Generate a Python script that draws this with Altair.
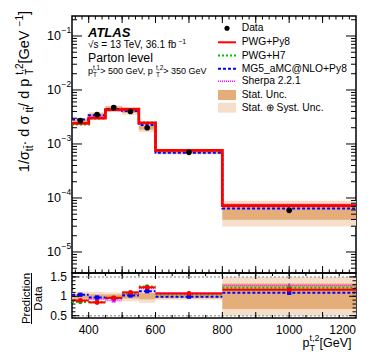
import altair as alt
import pandas as pd

# ---------------- data ----------------
bin_lo = [350, 400, 450, 500, 550, 600, 800]
bin_hi = [400, 450, 500, 550, 600, 800, 1200]
data_vals = [2.7e-3, 3.5e-3, 4.7e-3, 4.0e-3, 2.0e-3, 7.0e-4, 5.9e-5]
stat_rel = [0.06, 0.05, 0.05, 0.06, 0.08, 0.05, 0.33]
tot_rel = [0.12, 0.11, 0.10, 0.13, 0.17, 0.09, 0.50]

pwg_py8 = [2.4e-3, 3.0e-3, 4.3e-3, 4.4e-3, 2.45e-3, 7.6e-4, 7.2e-5]
pwg_h7 = [2.3e-3, 2.95e-3, 4.45e-3, 4.3e-3, 2.5e-3, 7.4e-4, 7.2e-5]
mg5_py8 = [2.85e-3, 3.4e-3, 4.45e-3, 4.1e-3, 2.25e-3, 6.9e-4, 6.4e-5]
sherpa = [2.45e-3, 3.25e-3, 4.2e-3, 4.2e-3, 2.4e-3, 7.6e-4, 7.6e-5]

ratio_py8 = [0.89, 0.84, 0.96, 1.10, 1.23, 1.07, 1.17]
ratio_h7 = [0.85, 0.85, 0.96, 1.07, 1.25, 1.05, 1.22]
ratio_mg5 = [1.04, 0.97, 0.95, 1.02, 1.13, 0.99, 1.09]
ratio_sherpa = [0.90, 0.93, 0.89, 1.05, 1.20, 1.09, 1.28]
ratio_err = [0.03, 0.03, 0.03, 0.04, 0.04, 0.03, 0.05]

x_label_vals = [400, 600, 800, 1000]
x_label_last = [1200]
y_decades = [1e-5, 1e-4, 1e-3, 1e-2, 1e-1]
y_decade_exp = ["\u22125", "\u22124", "\u22123", "\u22122", "\u22121"]
ratio_label_vals = [0.5, 1.0, 1.5]
ratio_label_txt = ["0.5", "1", "1.5"]
ratio_ref_lines = [0.5, 1.5]

x_major_ticks = [400, 500, 600, 700, 800, 900, 1000, 1100]
x_minor_ticks = [v for v in range(360, 1200, 20)]
x_ratio_minor = [v for v in range(400, 1200, 50)]
log_major = [1e-5, 1e-4, 1e-3, 1e-2, 1e-1]
log_minor = [k * 10.0 ** e for e in range(-6, 0) for k in range(2, 10)
             if 4.1e-6 < k * 10.0 ** e < 0.234]
ratio_major_ticks = [0.5, 1.0, 1.5]
ratio_minor_ticks = [0.5 + 0.1 * i for i in range(11)]

# ---------------- style ----------------
FONT = "Liberation Sans"
W, H, HR = 284, 257, 45
C_STAT = "#E5AD7A"
C_TOT = "#F5DFCA"
C_PY8 = "#ff0000"
C_H7 = "#00c000"
C_MG5 = "#0000ff"
C_SH = "#ff00ff"
NB = "\u00a0"

xs = alt.Scale(domain=[350, 1200], nice=False, zero=False)
ys = alt.Scale(type="log", domain=[4.08e-6, 0.2345], nice=False)
yr = alt.Scale(domain=[0.44, 1.6], nice=False, zero=False)

bins = pd.DataFrame({
    "lo": bin_lo, "hi": bin_hi, "data": data_vals,
    "stat": stat_rel, "tot": tot_rel,
    "r_py8": ratio_py8, "r_h7": ratio_h7, "r_mg5": ratio_mg5, "r_sh": ratio_sherpa,
    "rerr": ratio_err,
})
bins["c"] = (bins["lo"] + bins["hi"]) / 2
bins["s_lo"] = bins["data"] * (1 - bins["stat"])
bins["s_hi"] = bins["data"] * (1 + bins["stat"])
bins["t_lo"] = bins["data"] * (1 - bins["tot"])
bins["t_hi"] = bins["data"] * (1 + bins["tot"])
bins["rs_lo"] = 1 - bins["stat"]
bins["rs_hi"] = 1 + bins["stat"]
bins["rt_lo"] = 1 - bins["tot"]
bins["rt_hi"] = 1 + bins["tot"]

edges = bin_lo + [bin_hi[-1]]


def step_df(vals):
    return pd.DataFrame({"x": edges, "y": vals + [vals[-1]]})


one = pd.DataFrame({"a": [0]})

# ---------------- text layout helpers ----------------
AW = {' ': 278, NB: 278, '/': 278, '.': 278, ',': 278, '-': 333, '\u2212': 584, '[': 278,
      ']': 278, '>': 584, '=': 584, '+': 584, '_': 556, '@': 1015, '\u00b7': 278,
      '\u03c3': 617, '\u221a': 549, '\u0304': 0,
      'A': 667, 'B': 667, 'C': 722, 'D': 722, 'E': 667, 'F': 611, 'G': 778, 'H': 722, 'I': 278,
      'L': 556, 'M': 833, 'N': 722, 'O': 778, 'P': 667, 'S': 667, 'T': 611, 'U': 722, 'V': 667,
      'a': 556, 'b': 556, 'c': 500, 'd': 556, 'e': 556, 'f': 278, 'g': 556, 'h': 556, 'i': 222,
      'l': 222, 'n': 556, 'o': 556, 'p': 556, 'r': 333, 's': 500, 't': 278, 'u': 556, 'v': 500,
      'y': 500}
for d in "0123456789":
    AW[d] = 556


def nb(s):
    return s.replace(" ", NB)


def tw(s, size):
    return sum(AW.get(ch, 556) for ch in s) / 1000.0 * size


def txt(s, x, y, size, angle=0, **kw):
    mk = dict(align="left", baseline="alphabetic", fontSize=size, font=FONT, color="black")
    if angle:
        mk["angle"] = angle
    mk.update(kw)
    return alt.Chart(one).mark_text(**mk).encode(
        x=alt.value(x), y=alt.value(y), text=alt.value(nb(s)))


def rich_width(runs, bs, ss):
    w = 0
    for r in runs:
        if isinstance(r, str):
            w += tw(r, bs)
        else:
            w += max(tw(r[0], ss), tw(r[1], ss))
    return w


def rich_h(runs, x0, yb, bs, ss, sub_off, sup_off):
    out = []
    x = x0
    for r in runs:
        if isinstance(r, str):
            out.append(txt(r, x, yb, bs))
            x += tw(r, bs)
        else:
            sub, sup = r
            if sub:
                out.append(txt(sub, x, yb + sub_off, ss))
            if sup:
                out.append(txt(sup, x, yb - sup_off, ss))
            x += max(tw(sub, ss), tw(sup, ss))
    return out


def rich_v(runs, xb, y0, bs, ss, sub_off, sup_off):
    # rotated 270: text runs upward from (xb, y0)
    out = []
    y = y0
    for r in runs:
        if isinstance(r, str):
            out.append(txt(r, xb, y, bs, angle=270))
            y -= tw(r, bs)
        else:
            sub, sup = r
            if sub:
                out.append(txt(sub, xb + sub_off, y, ss, angle=270))
            if sup:
                out.append(txt(sup, xb - sup_off, y, ss, angle=270))
            y -= max(tw(sub, ss), tw(sup, ss))
    return out


# ---------------- main panel ----------------
X = alt.X("lo:Q", scale=xs, axis=None)
band_tot = alt.Chart(bins).mark_rect(color=C_TOT).encode(
    x=X, x2="hi:Q", y=alt.Y("t_lo:Q", scale=ys, axis=None), y2="t_hi:Q")
band_stat = alt.Chart(bins).mark_rect(color=C_STAT).encode(
    x=X, x2="hi:Q", y=alt.Y("s_lo:Q", scale=ys, axis=None), y2="s_hi:Q")


def hist(vals, color, width, dash=None):
    kw = dict(interpolate="step-after", color=color, strokeWidth=width, clip=True)
    if dash:
        kw["strokeDash"] = dash
    return alt.Chart(step_df(vals)).mark_line(**kw).encode(
        x=alt.X("x:Q", scale=xs, axis=None), y=alt.Y("y:Q", scale=ys, axis=None))


l_sh = hist(sherpa, C_SH, 1.5, [1, 1])
l_h7 = hist(pwg_h7, C_H7, 2, [2, 2])
l_mg = hist(mg5_py8, C_MG5, 2, [3, 2])
l_py = hist(pwg_py8, C_PY8, 2.8)

pts = alt.Chart(bins).mark_point(filled=True, color="black", size=32, opacity=1).encode(
    x=alt.X("c:Q", scale=xs, axis=None), y=alt.Y("data:Q", scale=ys, axis=None))


def xticks(vals, length, h, scale):
    df = pd.DataFrame({"v": vals})
    b = alt.Chart(df).mark_rule(color="black", strokeWidth=1).encode(
        x=alt.X("v:Q", scale=scale, axis=None), y=alt.value(h), y2=alt.value(h - length))
    t = alt.Chart(df).mark_rule(color="black", strokeWidth=1).encode(
        x=alt.X("v:Q", scale=scale, axis=None), y=alt.value(0), y2=alt.value(length))
    return [b, t]


def yticks(vals, length, scale):
    df = pd.DataFrame({"v": vals})
    l = alt.Chart(df).mark_rule(color="black", strokeWidth=1).encode(
        y=alt.Y("v:Q", scale=scale, axis=None), x=alt.value(0), x2=alt.value(length))
    r = alt.Chart(df).mark_rule(color="black", strokeWidth=1).encode(
        y=alt.Y("v:Q", scale=scale, axis=None), x=alt.value(W), x2=alt.value(W - length))
    return [l, r]


ticks_main = (xticks(x_major_ticks, 7, H, xs) + xticks(x_minor_ticks, 3.5, H, xs)
              + yticks(log_major, 10, ys) + yticks(log_minor, 5, ys))

dec_df = pd.DataFrame({"v": y_decades, "e": y_decade_exp})
ylab_base = alt.Chart(dec_df).mark_text(align="right", baseline="middle", fontSize=12.5,
                                         font=FONT, color="black").encode(
    y=alt.Y("v:Q", scale=ys, axis=None), x=alt.value(-11), text=alt.value("10"))
ylab_exp = alt.Chart(dec_df).mark_text(align="left", baseline="middle", fontSize=8.5,
                                        font=FONT, color="black", dy=-6).encode(
    y=alt.Y("v:Q", scale=ys, axis=None), x=alt.value(-10.5), text="e:N")

# y title (rotated)
ytitle_runs = ["1/\u03c3", ("tt\u0304", ""), " \u00b7 d \u03c3", ("tt\u0304", ""), " / d p",
               ("T", "t,2"), " [GeV", ("", "\u22121"), "]"]
YT_BS, YT_SS = 14.5, 10
yt_len = rich_width(ytitle_runs, YT_BS, YT_SS)
ytitle = rich_v(ytitle_runs, -43, -5 + yt_len, YT_BS, YT_SS, 3.5, 6.5)

# invisible anchor fixing the page position of the plot frame (page x=8, y=8)
anchor = alt.Chart(one).mark_rule(color="white", opacity=0, strokeWidth=0.1).encode(
    x=alt.value(-63), x2=alt.value(-62.5), y=alt.value(-7), y2=alt.value(-6.5))

# annotations
ann = []
ann.append(txt("ATLAS", 16, 20.5, 13, fontStyle="italic", fontWeight="bold"))
ann += rich_h(["\u221as = 13 TeV, 36.1 fb", ("", "\u22121")], 16, 31.7, 10, 7, 2.5, 4)
ann.append(txt("Parton level", 16, 46, 12.3))
ann += rich_h(["p", ("T", "t,1"), " > 500 GeV, p", ("T", "t,2"), " > 350 GeV"],
              16, 58, 9, 6.5, 2.5, 4)

# legend
LX0, LX1, LT = 146, 164, 169.7
leg_rows = [12.3, 26.3, 39.5, 52.7, 65.3, 79, 91.7]
leg_names = ["Data", "PWG+Py8", "PWG+H7", "MG5_aMC@NLO+Py8", "Sherpa 2.2.1",
             "Stat. Unc.", "Stat. \u2295 Syst. Unc."]
leg = []
leg.append(alt.Chart(one).mark_point(filled=True, color="black", size=26, opacity=1).encode(
    x=alt.value((LX0 + LX1) / 2), y=alt.value(leg_rows[0])))
for yy, col, wdt, dash in [(leg_rows[1], C_PY8, 2, None), (leg_rows[2], C_H7, 2, [2, 2]),
                           (leg_rows[3], C_MG5, 2, [3, 2]), (leg_rows[4], C_SH, 1.5, [1, 1])]:
    kw = dict(color=col, strokeWidth=wdt)
    if dash:
        kw["strokeDash"] = dash
    leg.append(alt.Chart(one).mark_rule(**kw).encode(
        x=alt.value(LX0), x2=alt.value(LX1), y=alt.value(yy)))
leg.append(alt.Chart(one).mark_rect(color=C_STAT).encode(
    x=alt.value(LX0), x2=alt.value(LX1), y=alt.value(leg_rows[5] - 5), y2=alt.value(leg_rows[5] + 5)))
leg.append(alt.Chart(one).mark_rect(color=C_TOT).encode(
    x=alt.value(LX0), x2=alt.value(LX1), y=alt.value(leg_rows[6] - 5), y2=alt.value(leg_rows[6] + 5)))
for yy, name in zip(leg_rows, leg_names):
    leg.append(txt(name, LT, yy, 10.3, baseline="middle"))

main = alt.layer(anchor, band_tot, band_stat, l_sh, l_h7, l_mg, l_py, pts,
                 *ticks_main, ylab_base, ylab_exp, *ytitle, *ann, *leg).properties(
    width=W, height=H)

# ---------------- ratio panel ----------------
XR = alt.X("lo:Q", scale=xs, axis=None)
rb_tot = alt.Chart(bins).mark_rect(color=C_TOT).encode(
    x=XR, x2="hi:Q", y=alt.Y("rt_lo:Q", scale=yr, axis=None), y2="rt_hi:Q")
rb_stat = alt.Chart(bins).mark_rect(color=C_STAT).encode(
    x=XR, x2="hi:Q", y=alt.Y("rs_lo:Q", scale=yr, axis=None), y2="rs_hi:Q")
ref = alt.Chart(pd.DataFrame({"v": ratio_ref_lines})).mark_rule(
    color="#a8a8a8", strokeDash=[2, 2], strokeWidth=1.5).encode(
    y=alt.Y("v:Q", scale=yr, axis=None))


def ratio_series(field, color, width, dash, shape, size):
    kw = dict(color=color, strokeWidth=width)
    if dash:
        kw["strokeDash"] = dash
    seg = alt.Chart(bins).mark_rule(**kw).encode(
        x=XR, x2="hi:Q", y=alt.Y(field + ":Q", scale=yr, axis=None))
    eb = alt.Chart(bins).transform_calculate(
        elo="datum." + field + " - datum.rerr", ehi="datum." + field + " + datum.rerr"
    ).mark_rule(color=color, strokeWidth=1.5).encode(
        x=alt.X("c:Q", scale=xs, axis=None), y=alt.Y("elo:Q", scale=yr, axis=None), y2="ehi:Q")
    mk = alt.Chart(bins).mark_point(filled=True, color=color, shape=shape, size=size,
                                    opacity=1).encode(
        x=alt.X("c:Q", scale=xs, axis=None), y=alt.Y(field + ":Q", scale=yr, axis=None))
    return [seg, eb, mk]


r_layers = (ratio_series("r_sh", C_SH, 1.5, [1, 1], "triangle-up", 22)
            + ratio_series("r_h7", C_H7, 2, [2, 2], "circle", 20)
            + ratio_series("r_mg5", C_MG5, 2, [3, 2], "square", 18)
            + ratio_series("r_py8", C_PY8, 2, None, "circle", 24))

ticks_ratio = (xticks(x_label_vals + [500, 700, 900, 1100], 6, HR, xs)
               + xticks(x_ratio_minor, 3, HR, xs)
               + yticks(ratio_major_ticks, 7, yr) + yticks(ratio_minor_ticks, 3.5, yr))

rl_df = pd.DataFrame({"v": ratio_label_vals, "t": ratio_label_txt})
ry_lab = alt.Chart(rl_df).mark_text(align="right", baseline="middle", fontSize=12,
                                     font=FONT, color="black").encode(
    y=alt.Y("v:Q", scale=yr, axis=None), x=alt.value(-5), text="t:N")
xl_df = pd.DataFrame({"v": x_label_vals, "t": [str(v) for v in x_label_vals]})
rx_lab = alt.Chart(xl_df).mark_text(align="center", baseline="alphabetic", fontSize=12,
                                     font=FONT, color="black").encode(
    x=alt.X("v:Q", scale=xs, axis=None), y=alt.value(60.7), text="t:N")
xl2_df = pd.DataFrame({"v": x_label_last, "t": [str(v) for v in x_label_last]})
rx_lab2 = alt.Chart(xl2_df).mark_text(align="right", baseline="alphabetic", fontSize=12,
                                       font=FONT, color="black").encode(
    x=alt.X("v:Q", scale=xs, axis=None), y=alt.value(60.7), text="t:N")

xtitle_runs = ["p", ("T", "t,2"), " [GeV]"]
XT_BS, XT_SS = 12.5, 9
xt_w = rich_width(xtitle_runs, XT_BS, XT_SS)
xtitle = rich_h(xtitle_runs, W - 1 - xt_w, 74, XT_BS, XT_SS, 3.5, 6)

rtitle = [
    txt("Prediction", -42.5, 25.5, 11.5, angle=270, align="center"),
    txt("Data", -30.5, 25.5, 11.5, angle=270, align="center"),
    alt.Chart(one).mark_rule(color="black", strokeWidth=1).encode(
        x=alt.value(-40.5), y=alt.value(0), y2=alt.value(51)),
]

ratio = alt.layer(rb_tot, rb_stat, ref, *r_layers, *ticks_ratio, ry_lab, rx_lab, rx_lab2,
                  *xtitle, *rtitle).properties(width=W, height=HR)

chart = alt.vconcat(main, ratio, spacing=0, bounds="flush").properties(
    padding={"left": 0, "top": 0, "right": 5, "bottom": 2},
    background="white",
).configure_view(stroke="black", strokeWidth=1.5)

chart.save("out.html", embed_options={"renderer": "svg", "actions": False})
